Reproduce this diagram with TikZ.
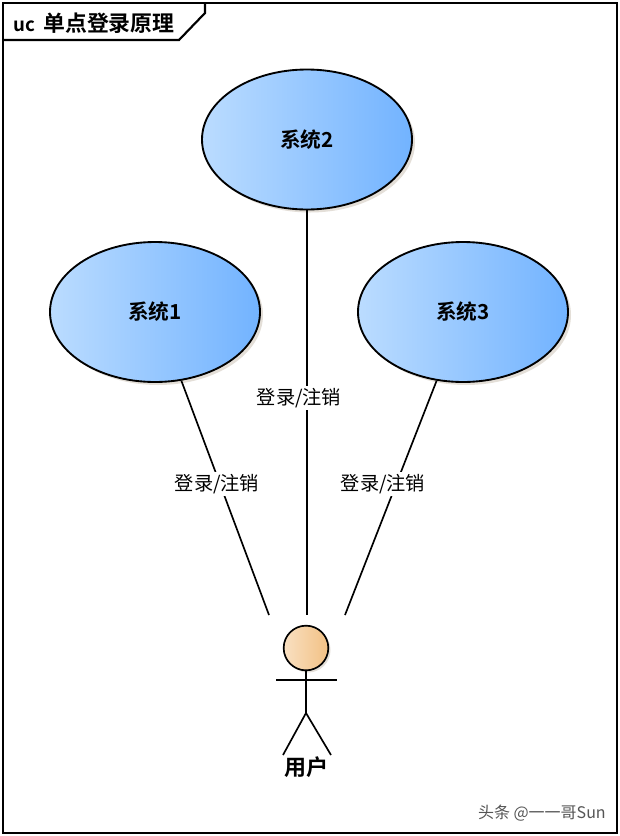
\documentclass[tikz,border=0pt]{standalone}
\usepackage{fontspec}
\setmainfont{Liberation Sans}
\newfontfamily\cjkb[BoldFont={Noto Sans CJK SC Bold}]{Noto Sans CJK SC}
\usetikzlibrary{calc,shapes.geometric}
\definecolor{ucL}{HTML}{BBDCFF}
\definecolor{ucR}{HTML}{72B3FF}
\definecolor{acL}{HTML}{F9E0C2}
\definecolor{acR}{HTML}{F2C184}
\definecolor{shad}{HTML}{E4DFD8}
\definecolor{wm}{HTML}{555555}
\tikzset{
  x=0.75pt,y=-0.75pt,
  frameline/.style={draw=black,line width=1.6pt},
  usecase/.style={ellipse,draw=black,line width=1.4pt,minimum width=157.5pt,minimum height=105pt,inner sep=0pt,
    left color=ucL,right color=ucR,font=\cjkb\bfseries\fontsize{15.5}{18}\selectfont},
  shadowcase/.style={ellipse,fill=shad,minimum width=157.5pt,minimum height=105pt,inner sep=0pt},
  assoc/.style={draw=black,line width=1.25pt},
  lab/.style={fill=white,inner sep=1.5pt,text=black,font=\cjkb\fontsize{14.4}{17}\selectfont},
  limb/.style={draw=black,line width=1.25pt},
}
\begin{document}
\begin{tikzpicture}
\useasboundingbox (0,0) rectangle (620,836);
\fill[white] (0,0) rectangle (620,836);
\draw[frameline] (3,3) rectangle (617,833);
\draw[frameline] (3,40) -- (179,40) -- (205,13) -- (205,3);
\node[anchor=west,inner sep=0pt,font=\cjkb\bfseries\fontsize{16}{18}\selectfont] (title) at (13,23) {\fontsize{14}{18}\selectfont uc\hspace{0.45em}\fontsize{16.4}{18}\selectfont 单点登录原理};

\node[shadowcase] at (310,142.5) {};
\node[shadowcase] at (158,315) {};
\node[shadowcase] at (466,315) {};
\node[usecase] (s2) at (307,139.5) {系统2};
\node[usecase] (s1) at (155,312) {系统1};
\node[usecase] (s3) at (463,312) {系统3};

\coordinate (e1) at (269,615);
\coordinate (e2) at (307,615);
\coordinate (e3) at (345,615);
\path[assoc] (s1.-69.6) -- (e1);
\path[assoc] (s2.south) -- (e2);
\path[assoc] (s3.-111.5) -- (e3);
\node[lab] (l1) at (217,484) {登录/注销};
\node[lab] (l2) at (299,398) {登录/注销};
\node[lab] (l3) at (383,484) {登录/注销};

\fill[shad] (308,650) circle[radius=22.5];
\node[circle,draw=black,line width=1.25pt,minimum size=33.5pt,inner sep=0pt,left color=acL,right color=acR] (head) at (306,648) {};
\coordinate (armL) at (276,680);
\coordinate (armR) at (337,680);
\coordinate (hip) at (306,713);
\coordinate (footL) at (283,755);
\coordinate (footR) at (331,755);
\draw[limb] (armL) -- (armR);
\draw[limb] (head.south) -- (hip);
\draw[limb] (footL) -- (hip) -- (footR);
\node[font=\cjkb\bfseries\fontsize{16.5}{18}\selectfont] (user) at (306,767) {用户};
\node[anchor=east,inner sep=0pt,text=wm,font=\cjkb\fontsize{12}{14}\selectfont] (mark) at (606,813) {头条 @一一哥Sun};
\end{tikzpicture}
\end{document}
